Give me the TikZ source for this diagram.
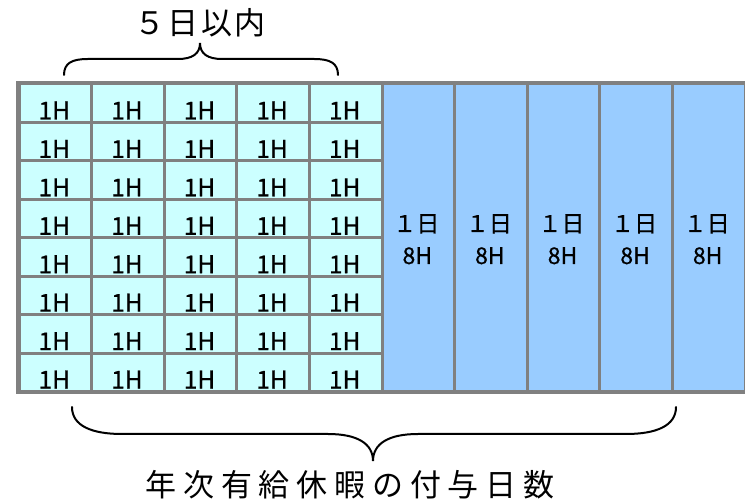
\documentclass[tikz,border=0pt]{standalone}
\usepackage{fontspec}
\setmainfont{Noto Sans CJK JP}
\definecolor{cellcyan}{HTML}{CCFFFF}
\definecolor{cellblue}{HTML}{99CCFF}
\definecolor{gridgray}{HTML}{808080}
\begin{document}
\begin{tikzpicture}[x=1pt,y=-1pt,
  hcell/.style={draw=gridgray,line width=3pt,fill=cellcyan,minimum width=72.6pt,minimum height=38.44pt,inner sep=0pt,anchor=north west},
  dcell/.style={draw=gridgray,line width=3pt,fill=cellblue,minimum width=72.6pt,minimum height=307.5pt,inner sep=0pt,anchor=north west},
  htext/.style={anchor=base,inner sep=0pt,font=\fontsize{24.5}{28}\selectfont\addfontfeature{FakeBold=0.6}},
  dtext/.style={anchor=base,inner sep=0pt,font=\fontsize{23}{28}\selectfont\addfontfeature{FakeBold=0.6}},
  toptext/.style={anchor=center,inner sep=0pt,font=\fontsize{31}{34}\selectfont\addfontfeature{LetterSpace=8}},
  bottext/.style={anchor=center,inner sep=0pt,font=\fontsize{31}{34}\selectfont\addfontfeature{LetterSpace=22}},
  brace/.style={draw=black,line width=2pt,line cap=round}]
\useasboundingbox (0,0) rectangle (745,502);
% blue day cells
\foreach \i in {1,...,5}{
  \node[dcell] (d\i) at ({17.5+72.6*(4+\i)},82.5) {};
}
% hourly cells
\foreach \r in {0,...,7}{
  \foreach \c in {0,...,4}{
    \node[hcell] (h\r\c) at ({17.5+72.6*\c},{82.5+38.44*\r}) {};
    \node[htext] (t\r\c) at ([xshift=-1pt,yshift=4.5pt]h\r\c.south) {1H};
  }
}
% outer frame
\draw[gridgray,line width=3pt] (h00.north west) rectangle (d5.south east);
\foreach \i in {1,...,5}{
  \node[dtext] (a\i) at ([xshift=-2pt,yshift=161pt]d\i.south) {１日};
  \node[dtext] (b\i) at ([xshift=-1pt,yshift=129pt]d\i.south) {8H};
}
% top label and brace
\node[toptext] (top) at (200,23) {５日以内};
\coordinate (tl) at (64,75);
\coordinate (tr) at (338,75);
\coordinate (tt) at (200,43);
\draw[brace] (tl) .. controls (64,63) and (72,59) .. (88,59) -- (178,59)
  .. controls (192,59) and (200,54) .. (tt)
  .. controls (200,54) and (208,59) .. (222,59) -- (314,59)
  .. controls (330,59) and (338,63) .. (tr);
% bottom brace and label
\coordinate (bl) at (72,407);
\coordinate (br) at (676,407);
\coordinate (bt) at (373,461);
\draw[brace] (bl) .. controls (72,426) and (92,434) .. (122,434) -- (328,434)
  .. controls (358,434) and (373,444) .. (bt)
  .. controls (373,444) and (388,434) .. (418,434) -- (626,434)
  .. controls (656,434) and (676,426) .. (br);
\node[bottext] (bottom) at (350,485) {年次有給休暇の付与日数};
\end{tikzpicture}
\end{document}
